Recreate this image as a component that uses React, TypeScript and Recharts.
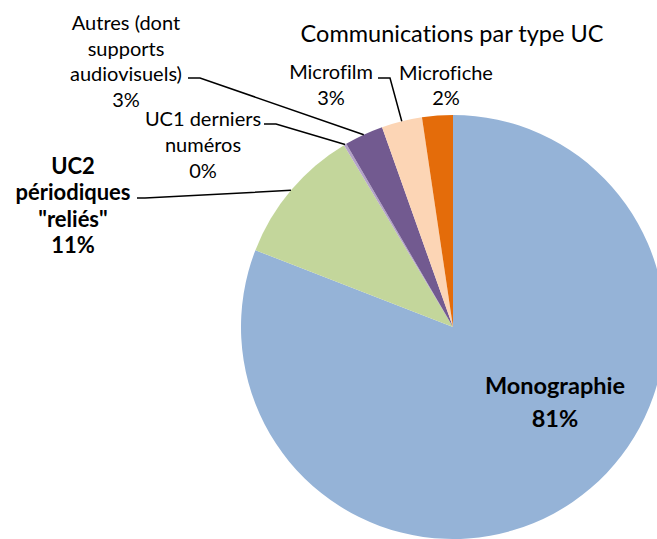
import { Cell, Pie, PieChart } from 'recharts'

const categories = [
  'Monographie',
  'UC2 périodiques "reliés"',
  'UC1 derniers numéros',
  'Autres (dont supports audiovisuels)',
  'Microfilm',
  'Microfiche',
]
const shares = [80.9, 10.5, 0.2, 2.97, 3.09, 2.34]
const colors = ['#95B3D7', '#C3D69B', '#B3A2C7', '#725A90', '#FCD5B5', '#E46C0A']
const labelLines = [
  ['Monographie'],
  ['UC2', 'périodiques', '"reliés"'],
  ['UC1 derniers', 'numéros'],
  ['Autres (dont', 'supports', 'audiovisuels)'],
  ['Microfilm'],
  ['Microfiche'],
]

const FONT = 'Lato, "Open Sans", sans-serif'
const noLigatures = { fontVariantLigatures: 'none' as const }

// label placement: x centre, first line centre, line step, bold, leader elbow
type LabelLayout = {
  x: number
  y: number
  step: number
  bold?: boolean
  size: number
  leader?: { x1: number; x2: number; y: number }
}

const layout: LabelLayout[] = [
  { x: 555, y: 385, step: 33, bold: true, size: 23.5 },
  { x: 73, y: 165, step: 26.5, bold: true, size: 22, leader: { x1: 137, x2: 145, y: 198 } },
  { x: 203, y: 118, step: 26, size: 20, leader: { x1: 264, x2: 276, y: 124 } },
  { x: 126, y: 22, step: 25.5, size: 20, leader: { x1: 188, x2: 200, y: 78 } },
  { x: 331, y: 71, step: 26, size: 20, leader: { x1: 378, x2: 390, y: 78 } },
  { x: 446, y: 72, step: 25, size: 20 },
]

const data = categories.map((name, i) => ({ name, value: shares[i] }))

const RAD = Math.PI / 180

function renderLabel(props: any) {
  const { cx, cy, midAngle, outerRadius, index } = props
  const cfg = layout[index]
  const lines = [...labelLines[index], `${Math.round(shares[index])}%`]
  const ex = cx + outerRadius * Math.cos(-midAngle * RAD)
  const ey = cy + outerRadius * Math.sin(-midAngle * RAD)
  return (
    <g key={`lbl-${index}`}>
      {cfg.leader && (
        <polyline
          points={`${cfg.leader.x1},${cfg.leader.y} ${cfg.leader.x2},${cfg.leader.y} ${ex},${ey}`}
          fill="none"
          stroke="#000"
          strokeWidth={1.5}
        />
      )}
      <text
        x={cfg.x}
        y={cfg.y}
        textAnchor="middle"
        fontFamily={FONT}
        fontSize={cfg.size}
        fontWeight={cfg.bold ? 700 : 400}
        fill="#000"
        style={noLigatures}
      >
        {lines.map((line, i) => (
          <tspan key={i} x={cfg.x} y={cfg.y + i * cfg.step} dominantBaseline="central">
            {line}
          </tspan>
        ))}
      </text>
    </g>
  )
}

export default function App() {
  return (
    <div
      style={{
        position: 'absolute',
        left: 0,
        top: 0,
        width: 657,
        height: 539,
        overflow: 'hidden',
        background: '#fff',
      }}
    >
      <PieChart width={657} height={539} margin={{ top: 0, right: 0, bottom: 0, left: 0 }}>
        <text
          x={452}
          y={33}
          textAnchor="middle"
          dominantBaseline="central"
          fontFamily={FONT}
          fontSize={23.5}
          fill="#000"
          style={noLigatures}
        >
          Communications par type UC
        </text>
        <Pie
          data={data}
          dataKey="value"
          nameKey="name"
          cx={453}
          cy={327}
          outerRadius={212}
          startAngle={90}
          endAngle={-270}
          stroke="none"
          label={renderLabel}
          labelLine={false}
          isAnimationActive={false}
        >
          {data.map((d, i) => (
            <Cell key={d.name} fill={colors[i]} />
          ))}
        </Pie>
      </PieChart>
    </div>
  )
}
